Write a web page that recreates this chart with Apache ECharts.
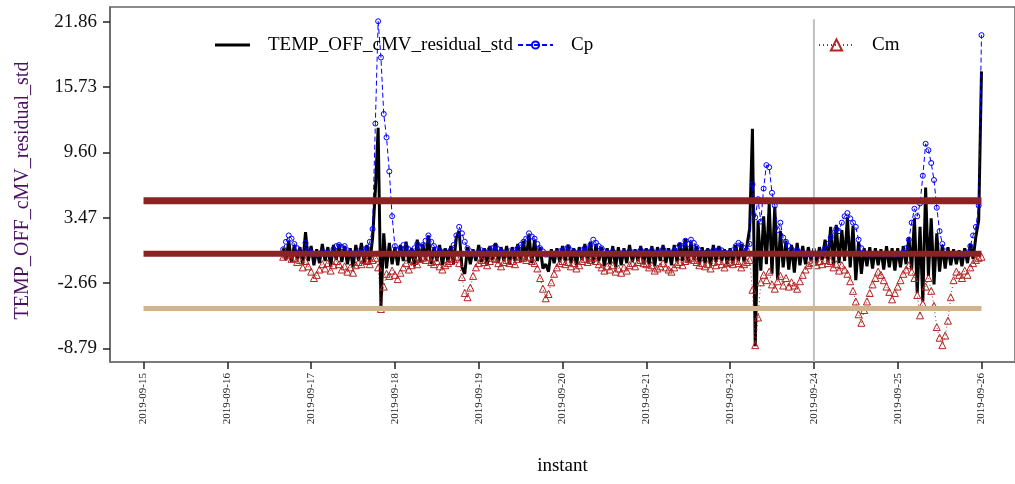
<!DOCTYPE html>
<html>
<head>
<meta charset="utf-8">
<title>TEMP_OFF_cMV_residual_std</title>
<script src="https://cdn.jsdelivr.net/npm/echarts@6/dist/echarts.min.js"></script>
<style>
  html, body { margin: 0; padding: 0; background: #fff; }
  #chart { width: 1015px; height: 484px; }
</style>
</head>
<body>
<div id="chart"></div>
<script>
// Day positions on the x axis (09-22 has no samples, so the axis skips it)
const dayTicks = [0, 1, 2, 3, 4, 5, 6, 7, 8, 9, 10];
const dayLabels = ['2019-09-15', '2019-09-16', '2019-09-17', '2019-09-18', '2019-09-19',
  '2019-09-20', '2019-09-21', '2019-09-23', '2019-09-24', '2019-09-25', '2019-09-26'];

const yTicks = [-8.79, -2.66, 3.47, 9.60, 15.73, 21.86];
const yTickLabels = ['-8.79', '-2.66', '3.47', '9.60', '15.73', '21.86'];

// Samples every 48 minutes, starting 2019-09-16 16:00 (day index 1 + 2/3)
const sampleStart = 50 / 30;
const sampleStep = 1 / 30;

// Standardised residual
const residual = [
  0.6, -0.5, 1.3, -0.7, 0.9, -0.4, 0.7, -0.9, 2.1, -0.6,
  0.8, -1.0, 0.5, -0.8, 1.0, -0.6, 0.7, -1.1, 0.9, -0.5,
  1.0, -0.7, 0.8, -0.9, 0.6, -1.2, 0.9, -0.6, 1.1, -0.8,
  0.9, -0.7, 1.5, 6.0, 11.9, -4.9, 2.0, -1.3, 1.1, -0.9,
  0.7, -1.0, 0.9, -0.6, 1.2, -0.8, 0.6, -1.1, 1.4, -0.7,
  1.0, -0.5, 1.8, -0.9, 0.7, -0.6, 0.9, -1.0, 0.6, -0.7,
  0.8, -0.9, 1.6, 2.2, -1.2, -1.8, 0.7, -0.9, 0.5, -0.6,
  0.9, -0.7, 0.6, -1.0, 0.8, -0.5, 1.1, -0.8, 0.7, -0.6,
  0.8, -0.9, 0.7, -0.6, 1.0, -0.7, 1.3, -0.5, 1.9, -0.8,
  1.4, -0.6, 0.7, -1.3, -0.9, -1.6, 0.5, -0.8, 0.6, -0.7,
  0.8, -0.6, 0.9, -0.8, 0.6, -1.0, 0.7, -0.5, 1.0, -0.7,
  1.2, -0.8, 1.0, -0.6, 0.7, -1.1, 0.6, -0.9, 0.8, -1.2,
  0.7, -1.0, 0.6, -0.8, 0.9, -0.7, 0.5, -0.6, 0.8, -0.9,
  0.6, -0.9, 0.8, -1.1, 0.7, -0.6, 0.9, -0.8, 0.6, -1.0,
  0.9, -0.7, 1.1, -0.6, 1.5, -0.8, 1.2, -0.5, 0.8, -0.9,
  0.7, -0.8, 0.6, -1.0, 0.9, -0.7, 0.8, -0.6, 0.5, -0.9,
  0.6, -0.8, 0.9, -0.6, 1.0, -0.7, 0.8, 2.4, 11.8, -8.6,
  3.2, -1.5, 3.6, -0.9, 4.8, -1.8, 4.5, -2.4, 2.2, -1.2,
  1.3, -1.4, 0.9, -1.7, 1.1, -1.0, 0.8, -0.9, 0.7, -0.6,
  0.6, -0.8, 0.7, -0.5, 1.4, -0.7, 2.6, -1.0, 2.8, -0.8,
  2.3, -0.6, 3.5, -1.2, 2.7, -2.4, 1.2, -1.8, 0.6, -1.1,
  0.7, -1.3, 0.6, -1.0, 0.5, -1.4, 0.8, -1.2, 0.6, -1.5,
  0.6, -1.2, 0.8, -0.9, 1.6, -1.4, 3.4, -3.6, 2.6, -4.4,
  6.3, -2.0, 3.4, -2.8, 2.0, -1.6, 0.9, -1.3, 0.7, -1.0,
  0.5, -0.9, 0.4, -1.1, 0.6, -0.8, 1.0, -0.4, 1.7, 3.2,
  17.2
];

// Upper cumulative sum
const cp = [
  0.5, 1.2, 1.8, 1.5, 1.0, 0.6, 0.3, 0.1, 1.1, 0.4,
  0.2, 0, 0, 0, 0.3, 0.1, 0.2, 0, 0.5, 0.8,
  0.9, 0.7, 0.8, 0.4, 0.2, 0, 0.1, 0.3, 0.2, 0.5,
  0.6, 1.2, 2.4, 12.3, 21.9, 18.5, 13.2, 11.0, 7.8, 3.6,
  0.8, 0.4, 0.6, 0.9, 0.7, 0.5, 0.3, 0.6, 1.0, 0.7,
  0.9, 1.3, 1.8, 1.2, 0.8, 0.5, 0.4, 0.2, 0.3, 0.1,
  0.4, 0.9, 1.8, 2.6, 2.0, 1.2, 0.6, 0.3, 0.1, 0,
  0.2, 0.4, 0.3, 0.1, 0.5, 0.6, 0.8, 0.5, 0.3, 0.2,
  0.1, 0.3, 0.2, 0.4, 0.6, 0.9, 1.2, 1.5, 2.0, 1.7,
  1.5, 1.0, 0.6, 0.3, 0, 0, 0.1, 0, 0.2, 0.3,
  0.4, 0.5, 0.7, 0.4, 0.3, 0.1, 0.2, 0.4, 0.6, 0.5,
  0.9, 1.4, 1.1, 0.8, 0.6, 0.3, 0.2, 0.1, 0.3, 0.1,
  0, 0.1, 0.2, 0.1, 0.3, 0.2, 0.1, 0.2, 0.4, 0.2,
  0.3, 0.2, 0.4, 0.1, 0.2, 0.3, 0.5, 0.3, 0.2, 0.1,
  0.4, 0.6, 0.9, 0.8, 1.3, 1.0, 1.4, 1.1, 0.7, 0.4,
  0.2, 0.1, 0.3, 0.2, 0.4, 0.3, 0.5, 0.4, 0.2, 0.1,
  0.2, 0.4, 0.8, 1.1, 0.9, 0.6, 0.4, 1.0, 6.6, 3.5,
  5.2, 3.1, 6.2, 8.4, 8.2, 5.8, 4.6, 2.3, 3.0, 1.6,
  1.2, 0.8, 0.5, 0.3, 0.4, 0.2, 0.1, 0, 0.1, 0,
  0, 0, 0.1, 0.2, 0.6, 1.0, 1.6, 2.0, 2.4, 2.2,
  3.0, 3.6, 3.9, 3.4, 3.0, 2.6, 1.4, 0.6, 0.2, 0,
  0, 0, 0.1, 0, 0, 0, 0, 0, 0, 0,
  0, 0, 0.2, 0.6, 1.4, 3.0, 4.3, 3.6, 4.8, 7.4,
  10.4, 9.8, 8.6, 7.0, 4.4, 2.2, 1.0, 0.3, 0, 0,
  0, 0, 0, 0, 0, 0.2, 0.8, 1.8, 2.6, 4.6,
  20.6
];

// Lower cumulative sum
const cm = [
  -0.2, 0, 0, -0.4, -0.3, -0.7, -0.5, -1.2, -0.6, -1.1,
  -1.6, -2.2, -1.9, -1.4, -0.9, -1.3, -0.8, -1.5, -1.0, -0.6,
  -0.9, -1.4, -1.1, -1.6, -1.2, -1.7, -1.0, -0.7, -0.9, -0.5,
  -0.6, -0.9, -0.5, -0.3, -1.2, -5.1, -3.0, -1.8, -2.0, -1.5,
  -1.9, -2.3, -1.7, -1.2, -0.8, -1.4, -1.0, -0.6, -0.9, -0.4,
  -0.3, -0.5, -0.2, -0.7, -0.9, -0.6, -1.1, -1.4, -1.0, -0.8,
  -0.6, -0.4, -0.2, -0.8, -2.1, -3.6, -4.0, -3.1, -2.0, -1.2,
  -0.8, -0.5, -0.7, -1.0, -0.6, -0.3, -0.4, -0.8, -1.1, -0.7,
  -0.5, -0.8, -0.6, -0.9, -0.4, -0.2, -0.3, -0.5, -0.2, -0.6,
  -0.8, -1.3, -2.2, -3.2, -4.1, -3.7, -2.6, -1.8, -1.2, -0.8,
  -0.6, -0.9, -0.7, -1.1, -0.8, -1.3, -1.0, -0.6, -0.4, -0.7,
  -0.5, -0.3, -0.6, -0.9, -1.2, -1.5, -1.1, -1.4, -1.0, -1.6,
  -1.3, -1.7, -1.2, -1.5, -1.0, -0.8, -1.1, -0.7, -0.5, -0.8,
  -0.9, -1.2, -1.0, -1.5, -1.3, -1.1, -0.8, -1.2, -1.4, -1.6,
  -1.2, -0.9, -0.7, -1.0, -0.6, -0.4, -0.3, -0.5, -0.7, -1.0,
  -0.8, -1.1, -0.9, -1.3, -0.7, -1.0, -0.6, -0.9, -1.2, -0.8,
  -0.7, -0.9, -0.6, -0.8, -1.2, -0.9, -0.7, -0.5, -3.3, -8.5,
  -5.9, -2.6, -1.9, -2.4, -1.6, -2.8, -3.2, -2.5, -2.0, -2.9,
  -2.2, -3.0, -2.6, -2.9, -3.2, -2.5, -1.9, -1.4, -1.0, -0.8,
  -0.7, -1.0, -0.6, -0.9, -0.5, -0.8, -0.6, -1.2, -0.9, -1.5,
  -1.0, -1.4, -1.8, -2.5, -3.4, -4.4, -5.6, -6.4, -5.2, -4.4,
  -3.6, -2.8, -2.2, -1.6, -1.9, -2.4, -3.0, -3.5, -4.2, -3.6,
  -3.0, -2.4, -1.8, -1.4, -1.0, -1.6, -2.2, -3.8, -5.7, -4.6,
  -3.0, -2.2, -3.4, -4.8, -6.8, -7.8, -8.5, -7.6, -6.2, -4.0,
  -2.4, -1.6, -1.9, -2.2, -1.5, -1.9, -1.2, -0.8, -0.5, -0.3,
  -0.2
];

// Decision limits and centre line
const upperLimit = 5.05;
const centreLine = 0.08;
const lowerLimit = -5.05;
// Start of the second period (2019-09-24)
const periodSplit = 8;

const serif = 'Liberation Serif';
const sampleTimes = residual.map((_, i) => sampleStart + i * sampleStep);
const pairs = values => values.map((v, i) => [sampleTimes[i], v]);
const hLine = (y, color, width) => ({
  type: 'line', silent: true, symbol: 'none', z: 6,
  data: [[dayTicks[0], y], [dayTicks[dayTicks.length - 1], y]],
  lineStyle: { color: color, width: width, cap: 'butt' }
});

const chart = echarts.init(document.getElementById('chart'), null, { renderer: 'canvas' });

const legendText = { fontFamily: serif, fontSize: 19, color: '#000', padding: [0, 0, 0, 13] };

chart.setOption({
  animation: false,
  backgroundColor: '#fff',
  grid: {
    left: 110, top: 7, width: 909.7, height: 355,
    show: true, borderColor: '#666', borderWidth: 1.5, backgroundColor: 'transparent'
  },
  legend: [
    { data: [{ name: 'TEMP_OFF_cMV_residual_std', icon: 'rect' }], left: 210, top: 30.5,
      itemWidth: 35, itemHeight: 3, selectedMode: false, textStyle: legendText },
    { data: ['Cp'], left: 512, top: 30.5, itemWidth: 35, itemHeight: 9,
      selectedMode: false, textStyle: legendText },
    { data: ['Cm'], left: 813, top: 30.5, itemWidth: 35, itemHeight: 14,
      selectedMode: false, textStyle: legendText }
  ],
  xAxis: {
    type: 'value', min: -0.4, max: 10.4,
    name: 'instant', nameLocation: 'middle', nameGap: 95,
    nameTextStyle: { fontFamily: serif, fontSize: 19, color: '#000' },
    axisLine: { show: true, onZero: false, lineStyle: { color: '#777', width: 1.5 } },
    axisTick: { show: true, length: 7, customValues: dayTicks, lineStyle: { color: '#222', width: 1.5 } },
    axisLabel: {
      rotate: 90, margin: 11, customValues: dayTicks,
      fontFamily: serif, fontSize: 11, color: '#222',
      formatter: v => dayLabels[dayTicks.indexOf(Math.round(v))]
    },
    splitLine: { show: false }
  },
  yAxis: {
    type: 'value', min: -10.08, max: 23.24,
    name: 'TEMP_OFF_cMV_residual_std', nameLocation: 'middle', nameGap: 77,
    nameTextStyle: { fontFamily: serif, fontSize: 20, color: '#4A1260', padding: [0, 12, 0, 0] },
    axisLine: { show: true, onZero: false, lineStyle: { color: '#666', width: 1.5 } },
    axisTick: { show: true, length: 7, customValues: yTicks, lineStyle: { color: '#222', width: 1.5 } },
    axisLabel: {
      margin: 13, customValues: yTicks,
      fontFamily: serif, fontSize: 19, color: '#111',
      formatter: v => yTickLabels[yTicks.indexOf(v)]
    },
    splitLine: { show: false }
  },
  series: [
    {
      name: 'TEMP_OFF_cMV_residual_std', type: 'line', symbol: 'none', z: 2,
      data: pairs(residual),
      lineStyle: { color: '#000', width: 3 },
      itemStyle: { color: '#000' }
    },
    {
      name: 'Cp', type: 'line', symbol: 'circle', symbolSize: 5, showAllSymbol: true, z: 3,
      data: pairs(cp),
      lineStyle: { color: '#0000FF', width: 1, type: [5, 3] },
      itemStyle: { color: 'rgba(0,0,0,0)', borderColor: '#0000FF', borderWidth: 1 }
    },
    {
      name: 'Cm', type: 'line', symbol: 'triangle', symbolSize: 7, showAllSymbol: true, z: 4,
      data: pairs(cm),
      lineStyle: { color: '#B22222', width: 1, type: [1, 3] },
      itemStyle: { color: 'rgba(0,0,0,0)', borderColor: '#B22222', borderWidth: 1 }
    },
    {
      type: 'line', silent: true, symbol: 'none', z: 5,
      data: [[periodSplit, -10.08], [periodSplit, 22.1]],
      lineStyle: { color: '#BEBEBE', width: 2 }
    },
    hLine(upperLimit, '#8B2323', 7),
    hLine(centreLine, '#8B2323', 6),
    hLine(lowerLimit, '#D2B48C', 5)
  ]
});
</script>
</body>
</html>
